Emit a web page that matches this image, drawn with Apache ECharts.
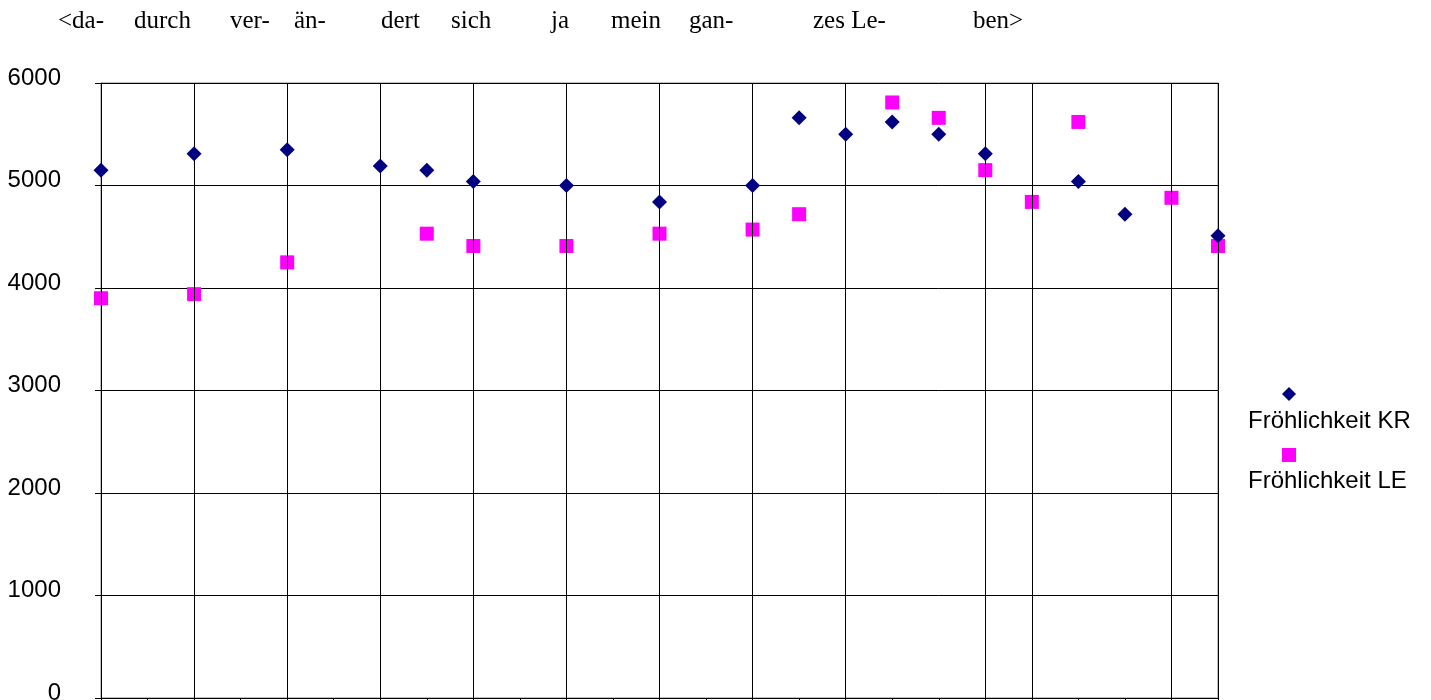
<!DOCTYPE html>
<html>
<head>
<meta charset="utf-8">
<title>Fröhlichkeit KR / LE</title>
<script src="https://cdn.jsdelivr.net/npm/echarts@6/dist/echarts.min.js"></script>
<style>
  html, body { margin: 0; padding: 0; background: #ffffff; }
  #chart { width: 1431px; height: 700px; }
</style>
</head>
<body>
<div id="chart"></div>
<script>
// Syllables of the sung line, printed above the plot
const lyricSyllables = ['<da-', 'durch', 'ver-', 'än-', 'dert', 'sich', 'ja', 'mein', 'gan-', 'zes Le-', 'ben>'];

// Series names
const seriesNames = ['Fröhlichkeit KR', 'Fröhlichkeit LE'];

// Positions along the time axis (steps 0..24) and values of each series
const krSteps  = [0, 2, 4, 6, 7, 8, 10, 12, 14, 15, 16, 17, 18, 19, 21, 22, 24];
const krValues = [5150, 5310, 5350, 5190, 5150, 5040, 5000, 4840, 5000, 5660, 5500, 5620, 5500, 5310, 5040, 4720, 4510];

const leSteps  = [0, 2, 4, 7, 8, 10, 12, 14, 15, 17, 18, 19, 20, 21, 23, 24];
const leValues = [3900, 3940, 4250, 4530, 4410, 4410, 4530, 4570, 4720, 5810, 5660, 5150, 4840, 5620, 4880, 4410];

// Steps that carry a vertical guide line
const guideSteps = [0, 2, 4, 6, 8, 10, 12, 14, 16, 19, 20, 23, 24];

// Value axis ticks
const yTicks = { min: 0, max: 6000, step: 1000 };
const stepRange = { min: 0, max: 24, step: 1 };

// Horizontal placement of each syllable (layout, px from the left edge)
const lyricLeft = [58, 134, 230, 294, 381, 451, 551, 611, 689, 813, 973];

const sansFont = '"Liberation Sans", Arial, sans-serif';
const serifFont = '"Liberation Serif", "Times New Roman", serif';

const zip = (xs, ys) => xs.map((x, i) => [x, ys[i]]);

const chart = echarts.init(document.getElementById('chart'), null, { renderer: 'canvas' });

chart.setOption({
  animation: false,
  backgroundColor: '#ffffff',
  grid: {
    left: 101, right: 213, top: 83, bottom: 2,
    outerBoundsMode: 'none',
    containLabel: false,
    show: true, borderColor: '#808080', borderWidth: 1, backgroundColor: 'transparent'
  },
  graphic: lyricSyllables.map((s, i) => ({
    type: 'text',
    x: lyricLeft[i],
    y: 21,
    silent: true,
    style: {
      text: s,
      font: '25px ' + serifFont,
      fill: '#000000',
      align: 'left',
      verticalAlign: 'middle'
    }
  })),
  legend: [
    {
      // symbols of the legend entries
      data: seriesNames,
      orient: 'vertical',
      left: 1282,
      top: 387,
      padding: 0,
      itemWidth: 14,
      itemHeight: 14,
      itemGap: 47,
      formatter: () => '',
      textStyle: { fontSize: 1, lineHeight: 1 },
      selectedMode: false
    },
    {
      // names of the legend entries, under their symbols
      data: seriesNames,
      orient: 'vertical',
      left: 1243,
      top: 409,
      padding: 0,
      itemWidth: 0,
      itemHeight: 0,
      itemGap: 36,
      textStyle: { fontSize: 24, lineHeight: 24, fontFamily: sansFont, color: '#000000' },
      selectedMode: false
    }
  ],
  xAxis: {
    type: 'value',
    min: stepRange.min,
    max: stepRange.max,
    interval: stepRange.step,
    axisLine: { show: true, lineStyle: { color: '#000000', width: 1 } },
    axisTick: { show: true, inside: false, length: 5, lineStyle: { color: '#000000' } },
    axisLabel: { show: false },
    splitLine: { show: false }
  },
  yAxis: {
    type: 'value',
    min: yTicks.min,
    max: yTicks.max,
    interval: yTicks.step,
    axisLine: { show: true, lineStyle: { color: '#404040', width: 1 } },
    axisTick: { show: true, inside: false, length: 6, lineStyle: { color: '#000000' } },
    axisLabel: {
      show: true,
      margin: 40,
      fontSize: 24,
      fontFamily: sansFont,
      color: '#000000',
      verticalAlign: 'bottom',
      lineHeight: 10,
      formatter: v => String(v)
    },
    splitLine: { show: true, lineStyle: { color: '#000000', width: 1 } }
  },
  series: [
    {
      name: seriesNames[0],
      type: 'scatter',
      symbol: 'diamond',
      symbolSize: 15,
      itemStyle: { color: '#000080', opacity: 1 },
      data: zip(krSteps, krValues),
      z: 5,
      markLine: {
        silent: true,
        symbol: ['none', 'none'],
        label: { show: false },
        lineStyle: { color: '#000000', width: 1, type: 'solid', opacity: 1 },
        emphasis: { disabled: true },
        data: guideSteps.map(s => ({ xAxis: s }))
      }
    },
    {
      name: seriesNames[1],
      type: 'scatter',
      symbol: 'rect',
      symbolSize: 14,
      itemStyle: { color: '#ff00ff', opacity: 1 },
      data: zip(leSteps, leValues),
      z: 4
    }
  ]
});
</script>
</body>
</html>
